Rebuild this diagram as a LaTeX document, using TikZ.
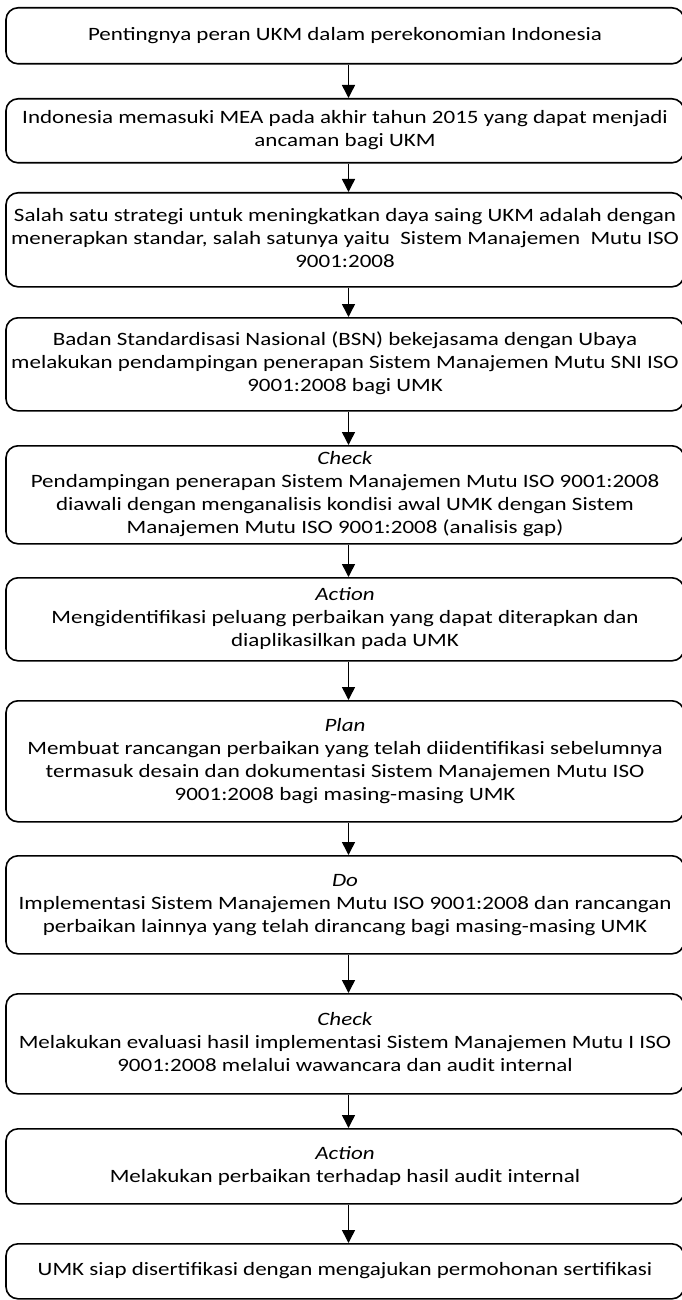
\documentclass[tikz,border=0pt]{standalone}
\usepackage{fontspec}
\setmainfont{Carlito}
\usetikzlibrary{arrows.meta}
% text block of a step: centred lines, slightly condensed vertically
\newcommand\boxtext[1]{\scalebox{1}[0.82]{\fontsize{23}{28}\selectfont\begin{tabular}{@{}c@{}}#1\end{tabular}}}
\begin{document}
\begin{tikzpicture}[x=1pt,y=-1pt,
  stepbox/.style={draw, line width=1.6pt, rounded corners=12pt, minimum width=678pt,
                  inner sep=0pt, anchor=north, align=center},
  flow/.style={line width=1.5pt, -{Triangle[length=13pt,width=13pt]}}]
\useasboundingbox (0,0) rectangle (681,1300);

\node[stepbox, minimum height=56pt] (b1) at (345,7)
  {\boxtext{Pentingnya peran UKM dalam perekonomian Indonesia}};
\node[stepbox, minimum height=64pt] (b2) at (345,98)
  {\boxtext{Indonesia memasuki MEA pada akhir tahun 2015 yang dapat menjadi\\ ancaman bagi UKM}};
\node[stepbox, minimum height=94pt] (b3) at (345,192)
  {\boxtext{Salah satu strategi untuk meningkatkan daya saing UKM adalah dengan\\ menerapkan standar, salah satunya yaitu\ \ Sistem Manajemen\ \ Mutu ISO\\ 9001:2008}};
\node[stepbox, minimum height=93pt] (b4) at (345,317)
  {\boxtext{Badan Standardisasi Nasional (BSN) bekejasama dengan Ubaya\\ melakukan pendampingan penerapan Sistem Manajemen Mutu SNI ISO\\ 9001:2008 bagi UMK}};
\node[stepbox, minimum height=98pt] (b5) at (345,445)
  {\boxtext{\textit{Check}\\ Pendampingan penerapan Sistem Manajemen Mutu ISO 9001:2008\\ diawali dengan menganalisis kondisi awal UMK dengan Sistem\\ Manajemen Mutu ISO 9001:2008 (analisis gap)}};
\node[stepbox, minimum height=83pt] (b6) at (345,577)
  {\boxtext{\textit{Action}\\ Mengidentifikasi peluang perbaikan yang dapat diterapkan dan\\ diaplikasilkan pada UMK}};
\node[stepbox, minimum height=121pt] (b7) at (345,700)
  {\boxtext{\textit{Plan}\\ Membuat rancangan perbaikan yang telah diidentifikasi sebelumnya\\ termasuk desain dan dokumentasi Sistem Manajemen Mutu ISO\\ 9001:2008 bagi masing-masing UMK}};
\node[stepbox, minimum height=98pt] (b8) at (345,855)
  {\boxtext{\textit{Do}\\ Implementasi Sistem Manajemen Mutu ISO 9001:2008 dan rancangan\\ perbaikan lainnya yang telah dirancang bagi masing-masing UMK}};
\node[stepbox, minimum height=100pt] (b9) at (345,993)
  {\boxtext{\textit{Check}\\ Melakukan evaluasi hasil implementasi Sistem Manajemen Mutu I ISO\\ 9001:2008 melalui wawancara dan audit internal}};
\node[stepbox, minimum height=75pt] (b10) at (345,1128)
  {\boxtext{\textit{Action}\\ Melakukan perbaikan terhadap hasil audit internal}};
\node[stepbox, minimum height=55pt] (b11) at (345,1243)
  {\boxtext{UMK siap disertifikasi dengan mengajukan permohonan sertifikasi}};

% arrows run a little right of the box centres
\foreach \a/\b in {b1/b2,b2/b3,b3/b4,b4/b5,b5/b6,b6/b7,b7/b8,b8/b9,b9/b10,b10/b11}
  \draw[flow] ([xshift=3.5pt]\a.south) -- ([xshift=3.5pt]\b.north);
\end{tikzpicture}
\end{document}
